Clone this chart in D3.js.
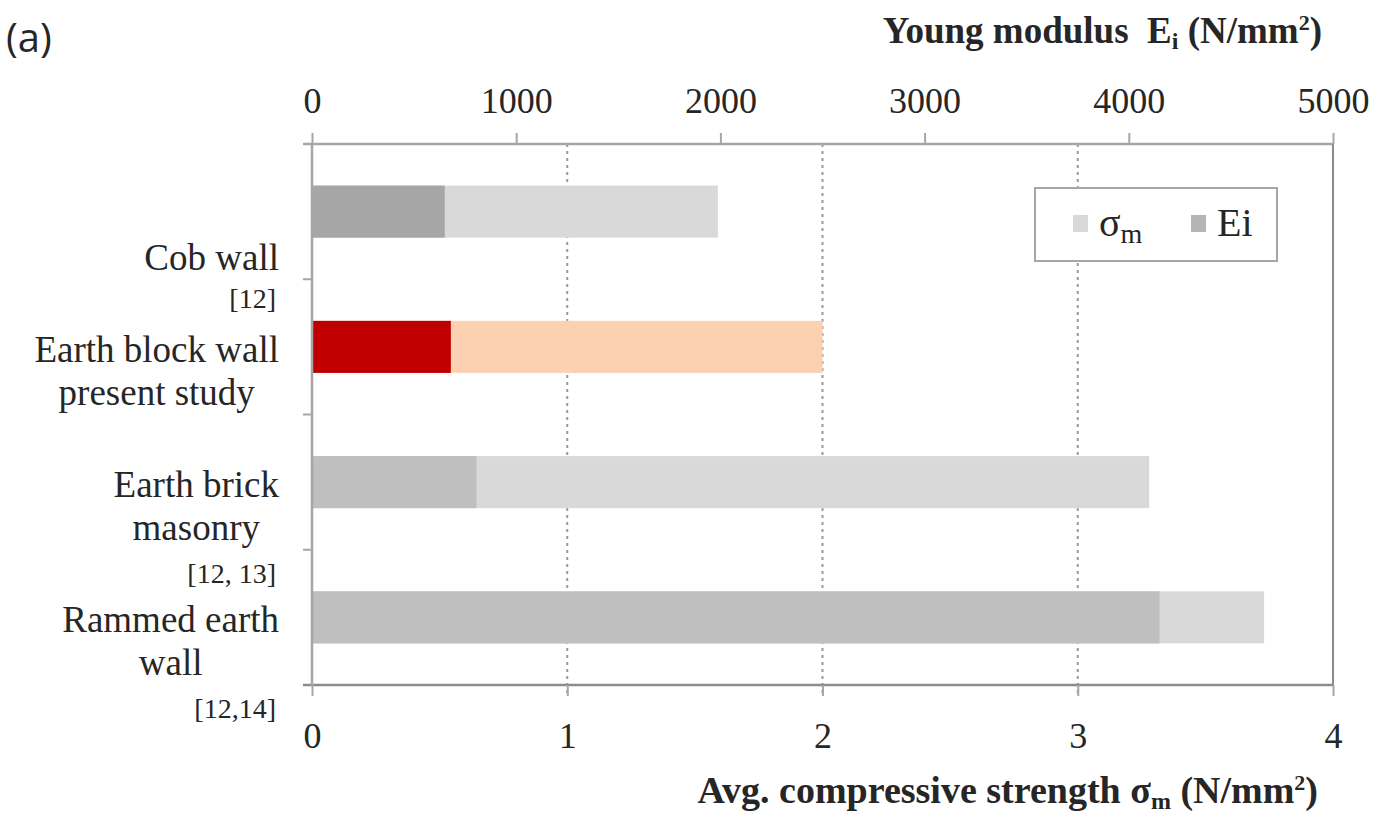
<!DOCTYPE html>
<html>
<head>
<meta charset="utf-8">
<script src="https://cdn.jsdelivr.net/npm/d3@7"></script>
<style>
  body { margin:0; background:#fff; }
  svg { display:block; }
  text { fill:#262626; }
</style>
</head>
<body>
<svg id="chart" width="1390" height="817"></svg>
<script>
'use strict';
// data
const categories = ['Cob wall', 'Earth block wall', 'Earth brick', 'Rammed earth'];
const labelLines = [['', 'Cob wall'], ['Earth block wall', 'present study'], ['Earth brick', 'masonry'], ['Rammed earth', 'wall']];
const refLabels = ['[12]', '', '[12, 13]', '[12,14]'];
const sigmaM = [1.59, 2.0, 3.28, 3.73];       // N/mm2, bottom axis
const youngEi = [650, 680, 805, 4150];        // N/mm2, top axis
const sigmaTicks = [0, 1, 2, 3, 4];
const eiTicks = [0, 1000, 2000, 3000, 4000, 5000];

const lightColors = ['#d9d9d9', '#fbd1b1', '#d9d9d9', '#d9d9d9'];
const darkColors  = ['#a6a6a6', '#c00000', '#bfbfbf', '#bfbfbf'];

const svg = d3.select('#chart');
const L = 312, R = 1333, T = 144, B = 685;
const serif = '"Liberation Serif", "Times New Roman", serif';

const xS = d3.scaleLinear().domain([0, 4]).range([L, R]);
const xE = d3.scaleLinear().domain([0, 5000]).range([L, R]);
const y = d3.scaleBand().domain(categories).range([T, B]).paddingInner(0.615).paddingOuter(0.3075);

// gridlines (dashed) at sigma ticks
svg.append('g').selectAll('line').data(sigmaTicks.filter(d => d > 0 && d < 4)).join('line')
  .attr('x1', d => xS(d)).attr('x2', d => xS(d)).attr('y1', T).attr('y2', B + 10)
  .attr('stroke', '#9a9a9a').attr('stroke-width', 2).attr('stroke-dasharray', '3,4');

// bars: sigma first, Ei on top
const rows = svg.append('g').selectAll('g').data(categories).join('g');
rows.append('rect')
  .attr('x', xS(0)).attr('y', d => y(d))
  .attr('width', (d, i) => xS(sigmaM[i]) - xS(0)).attr('height', y.bandwidth())
  .attr('fill', (d, i) => lightColors[i]);
rows.append('rect')
  .attr('x', xE(0)).attr('y', d => y(d))
  .attr('width', (d, i) => xE(youngEi[i]) - xE(0)).attr('height', y.bandwidth())
  .attr('fill', (d, i) => darkColors[i]);

// frame
const axisCol = '#a6a6a6';
svg.append('line').attr('x1', L - 9).attr('x2', R).attr('y1', T).attr('y2', T).attr('stroke', axisCol).attr('stroke-width', 2.5);
svg.append('line').attr('x1', L - 9).attr('x2', R).attr('y1', B).attr('y2', B).attr('stroke', '#8c8c8c').attr('stroke-width', 2.5);
svg.append('line').attr('x1', L).attr('x2', L).attr('y1', T).attr('y2', B).attr('stroke', axisCol).attr('stroke-width', 2.5);
svg.append('line').attr('x1', R).attr('x2', R).attr('y1', T).attr('y2', B).attr('stroke', '#8c8c8c').attr('stroke-width', 2);

// left category ticks at band boundaries
svg.append('g').selectAll('line').data(categories.slice(1)).join('line')
  .attr('x1', L - 9).attr('x2', L).attr('y1', d => y(d) - y.step() * y.paddingInner() / 2).attr('y2', d => y(d) - y.step() * y.paddingInner() / 2)
  .attr('stroke', axisCol).attr('stroke-width', 2);

// top axis (Ei)
const topAxis = svg.append('g').attr('transform', `translate(0,${T})`)
  .call(d3.axisTop(xE).tickValues(eiTicks).tickFormat(d3.format('d')).tickSize(11).tickPadding(20));
// bottom axis (sigma)
const botAxis = svg.append('g').attr('transform', `translate(0,${B})`)
  .call(d3.axisBottom(xS).tickValues(sigmaTicks).tickFormat(d3.format('d')).tickSize(11).tickPadding(26));
[topAxis, botAxis].forEach(a => {
  a.select('.domain').remove();
  a.selectAll('.tick line').attr('stroke', axisCol).attr('stroke-width', 2);
  a.selectAll('.tick text').attr('font-family', serif).attr('font-size', 36).attr('fill', '#404040');
});

// category labels: centred lines, block right-aligned
const labelRight = 279, lineGap = 43;
categories.forEach((c, i) => {
  const cy = y(c) + y.bandwidth() / 2;
  const g = svg.append('g');
  const texts = labelLines[i].map((t, k) => g.append('text')
    .attr('font-family', serif).attr('font-size', 37).attr('text-anchor', 'end')
    .attr('x', labelRight).attr('y', cy + 15 + k * lineGap).text(t));
  const w = d3.max(texts, t => t.node().getComputedTextLength());
  texts.forEach(t => t.attr('text-anchor', 'middle').attr('x', labelRight - w / 2));
  if (refLabels[i]) {
    g.append('text').attr('font-family', serif).attr('font-size', 28).attr('text-anchor', 'end')
      .attr('x', labelRight - 3).attr('y', cy + 15 + 2 * lineGap - (i === 0 ? 5 : 0)).text(refLabels[i]);
  }
});

// axis titles
const topTitle = svg.append('text').attr('font-family', serif).attr('font-size', 37).attr('font-weight', 'bold')
  .attr('text-anchor', 'end').attr('x', 1322).attr('y', 43);
topTitle.append('tspan').text('Young modulus\u00a0\u00a0E');
topTitle.append('tspan').attr('font-size', 24).attr('dy', 6).text('i');
topTitle.append('tspan').attr('dy', -6).text(' (N/mm');
topTitle.append('tspan').attr('font-size', 22).attr('dy', -13).text('2');
topTitle.append('tspan').attr('dy', 13).text(')');

const botTitle = svg.append('text').attr('font-family', serif).attr('font-size', 38).attr('font-weight', 'bold')
  .attr('text-anchor', 'end').attr('x', 1318).attr('y', 803);
botTitle.append('tspan').text('Avg. compressive strength σ');
botTitle.append('tspan').attr('font-size', 24).attr('dy', 6).text('m');
botTitle.append('tspan').attr('dy', -6).text(' (N/mm');
botTitle.append('tspan').attr('font-size', 22).attr('dy', -13).text('2');
botTitle.append('tspan').attr('dy', 13).text(')');

// panel tag
svg.append('text').attr('font-family', '"Open Sans", "Noto Sans", sans-serif').attr('font-size', 40)
  .attr('x', 6).attr('y', 52).attr('fill', '#333').text('(a)');

// legend
const legend = svg.append('g');
legend.append('rect').attr('x', 1035).attr('y', 188).attr('width', 242).attr('height', 73)
  .attr('fill', '#fff').attr('stroke', axisCol).attr('stroke-width', 2);
const legendItems = [
  { fill: '#d9d9d9', x: 1073, main: 'σ', sub: 'm' },
  { fill: '#b5b5b5', x: 1191, main: 'Ei', sub: '' }
];
legendItems.forEach(it => {
  legend.append('rect').attr('x', it.x).attr('y', 215).attr('width', 15).attr('height', 17).attr('fill', it.fill);
  const t = legend.append('text').attr('font-family', serif).attr('font-size', 40).attr('x', it.x + 26).attr('y', 236);
  t.append('tspan').text(it.main);
  if (it.sub) t.append('tspan').attr('font-size', 28).attr('dy', 7).text(it.sub);
});
</script>
</body>
</html>
